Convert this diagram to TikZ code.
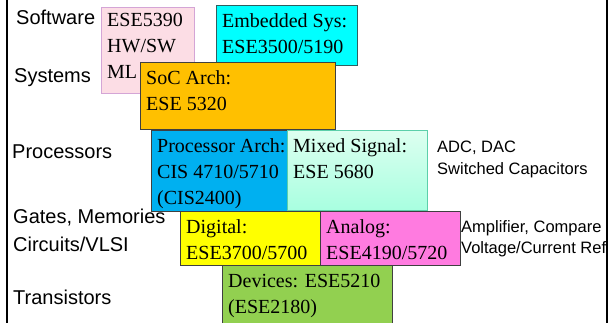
\documentclass[tikz,border=0pt]{standalone}
\usepackage{fontspec}
\setmainfont{Liberation Serif}
\setsansfont{Liberation Sans}

\definecolor{hwswpink}{HTML}{FCDDE5}
\definecolor{pinkedge}{HTML}{D4A5D6}
\definecolor{embcyan}{HTML}{00FFFF}
\definecolor{cyanedge}{HTML}{306060}
\definecolor{socorange}{HTML}{FFC000}
\definecolor{procblue}{HTML}{00B0F0}
\definecolor{minttop}{HTML}{DDFFF0}
\definecolor{mintbot}{HTML}{A8FFE0}
\definecolor{mintedge}{HTML}{5CCFAA}
\definecolor{digyellow}{HTML}{FFFF00}
\definecolor{anapink}{HTML}{FF7BE0}
\definecolor{devgreen}{HTML}{92D050}
\definecolor{boxedge}{HTML}{404040}

\tikzset{
  course/.style={draw=boxedge, line width=0.9pt, anchor=north west, inner sep=0pt},
  coursetext/.style={anchor=north west, align=left, inner xsep=6pt, inner ysep=8.5pt,
    font=\fontsize{20}{26}\selectfont},
  layer/.style={anchor=base west, inner sep=0pt, font=\sffamily\fontsize{20}{24}\selectfont},
  note/.style={anchor=base west, inner sep=0pt, font=\sffamily\fontsize{16.5}{20}\selectfont}
}

\begin{document}
\begin{tikzpicture}[x=1pt,y=-1pt]
\useasboundingbox (0,0) rectangle (616,323);

\coordinate (lefttop) at (7,0);
\coordinate (leftbot) at (7,323);
\coordinate (righttop) at (607,0);
\coordinate (rightbot) at (607,323);
\draw[line width=2pt] (lefttop) -- (leftbot);
\draw[line width=2pt] (righttop) -- (rightbot);

\node[layer] (sw) at (16,25) {Software};
\node[layer] (sys) at (14,83) {Systems};
\node[layer] (procs) at (12,159) {Processors};
\node[layer] (gates) at (13,224) {Gates, Memories};
\node[layer] (vlsi) at (13,252) {Circuits/VLSI};
\node[layer] (trans) at (13,305) {Transistors};

\node[course, draw=pinkedge, fill=hwswpink, minimum width=93pt, minimum height=86pt] (hwsw) at (101,7) {};
\node[coursetext, inner ysep=6.5pt] (hwswtxt) at (hwsw.north west) {ESE5390\\HW/SW\\ML};

\node[course, draw=cyanedge, fill=embcyan, minimum width=141pt, minimum height=60pt] (emb) at (216,5) {};
\node[coursetext] (embtxt) at (emb.north west) {Embedded Sys:\\ESE3500/5190};

\node[course, fill=socorange, minimum width=195pt, minimum height=67pt] (soc) at (140,62) {};
\node[coursetext] (soctxt) at (soc.north west) {SoC Arch:\\ESE 5320};

\node[course, fill=procblue, minimum width=136pt, minimum height=81pt] (proc) at (151,130) {};
\node[coursetext] (proctxt) at (proc.north west) {Processor Arch:\\CIS 4710/5710\\(CIS2400)};

\node[course, draw=mintedge, top color=minttop, bottom color=mintbot, minimum width=140pt, minimum height=80pt] (mixed) at (287,130) {};
\node[coursetext] (mixedtxt) at (mixed.north west) {Mixed Signal:\\ESE 5680};

\node[course, fill=digyellow, minimum width=140pt, minimum height=54pt] (digital) at (180,211) {};
\node[coursetext] (digitaltxt) at (digital.north west) {Digital:\\ESE3700/5700};

\node[course, fill=anapink, minimum width=140pt, minimum height=54pt] (analog) at (320,211) {};
\node[coursetext] (analogtxt) at (analog.north west) {Analog:\\ESE4190/5720};

\node[course, fill=devgreen, minimum width=170pt, minimum height=64pt] (devices) at (222,265) {};
\node[coursetext] (devicestxt) at (devices.north west) {Devices: ESE5210\\(ESE2180)};

\node[note] (adc) at (437,153) {ADC, DAC};
\node[note] (swcap) at (437,175) {Switched Capacitors};
\node[note] (amp) at (461,233) {Amplifier, Compare};
\node[note] (vref) at (461,254) {Voltage/Current Ref};
\end{tikzpicture}
\end{document}
